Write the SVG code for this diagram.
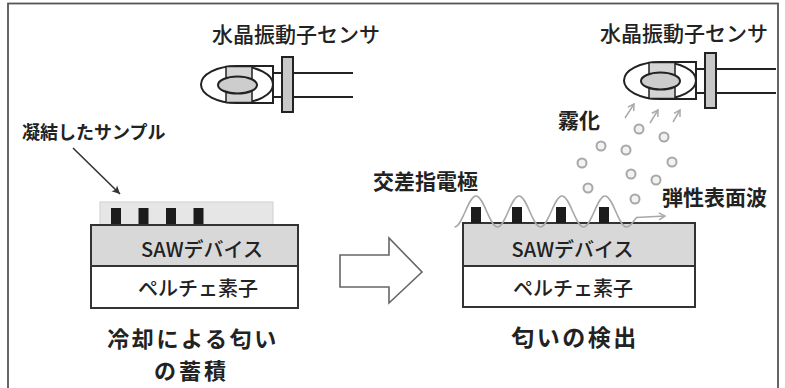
<svg xmlns="http://www.w3.org/2000/svg" xmlns:xlink="http://www.w3.org/1999/xlink" width="785" height="388" viewBox="0 0 785 388">
  <style>
    .jp { font-family: "Noto Sans CJK JP", "Noto Sans", sans-serif; fill: #222; }
    .m { font-weight: 500; }
    .b { font-weight: bold; }
    .saw { fill: #d8d8d8; stroke: #333; stroke-width: 2; }
    .pel { fill: #fff; stroke: #333; stroke-width: 2; }
    .elec { fill: #1c1c1c; }
    .drop { fill: #f2f2f2; stroke: #a8a8a8; stroke-width: 2; }
    .ink { stroke: #222; stroke-width: 2; }
  </style>
  <defs>
    <marker id="headDark" markerWidth="10" markerHeight="10" refX="8" refY="5" orient="auto" markerUnits="userSpaceOnUse">
      <path d="M0,1 L8,5 L0,9 L2,5 Z" fill="#333"/>
    </marker>
    <marker id="headGray" markerWidth="10" markerHeight="10" refX="7" refY="5" orient="auto" markerUnits="userSpaceOnUse">
      <path d="M1,1.5 L7,5 L1,8.5" fill="none" stroke="#aaa" stroke-width="1.5"/>
    </marker>
    <!-- quartz crystal sensor, drawn at the left position -->
    <g id="sensor">
      <path d="M237,66 H273 V103 H237 A36 18.5 0 0 1 237,66 Z" fill="#fff" class="ink"/>
      <path d="M237,66 A36 18.5 0 0 1 237,103" fill="none" class="ink"/>
      <rect x="226" y="66.5" width="26" height="36" fill="#d4d4d4" stroke="#222" stroke-width="1.5"/>
      <ellipse cx="237.5" cy="85" rx="19.5" ry="8.5" fill="#cdcdcd" class="ink"/>
      <rect x="273" y="73" width="9" height="24" fill="#fff" class="ink"/>
      <rect x="282" y="57" width="11" height="55" fill="#c8c8c8" class="ink"/>
      <line x1="293" y1="73" x2="353" y2="73" class="ink"/>
      <line x1="293" y1="97" x2="353" y2="97" class="ink"/>
    </g>
  </defs>

  <rect width="785" height="388" fill="#fff"/>
  <!-- outer frame -->
  <rect x="8" y="3.5" width="770" height="400" fill="none" stroke="#555" stroke-width="1.8"/>

  <!-- left: accumulation by cooling -->
  <g id="sensor-left">
    <use xlink:href="#sensor"/>
    <text class="jp m" x="212" y="42" font-size="21">水晶振動子センサ</text>
  </g>

  <g id="sample-label">
    <text class="jp b" x="22" y="138.5" font-size="18">凝結したサンプル</text>
  </g>

  <g id="device-left">
    <rect x="100" y="202" width="173" height="23" fill="#e6e6e6" stroke="#d0d0d0" stroke-width="1"/>
    <rect class="elec" x="111" y="208" width="10" height="17"/>
    <rect class="elec" x="138.5" y="208" width="10" height="17"/>
    <rect class="elec" x="166" y="208" width="10" height="17"/>
    <rect class="elec" x="193.5" y="208" width="10" height="17"/>
    <rect class="saw" x="91" y="225" width="207" height="41"/>
    <rect class="pel" x="91" y="266" width="207" height="42"/>
    <text class="jp m" x="202" y="257" font-size="20" text-anchor="middle">SAWデバイス</text>
    <text class="jp m" x="198" y="296" font-size="20" text-anchor="middle">ペルチェ素子</text>
  </g>

  <g id="caption-left">
    <text class="jp b" x="193" y="347" font-size="22" letter-spacing="2.6" text-anchor="middle">冷却による匂い</text>
    <text class="jp b" x="191.5" y="379" font-size="22" letter-spacing="3" text-anchor="middle">の蓄積</text>
  </g>

  <!-- transition arrow -->
  <g id="step-arrow">
    <polygon points="340,255 389,255 389,238 422,272 389,303 389,287 340,287" fill="#fff" stroke="#666" stroke-width="1.6"/>
  </g>

  <!-- right: detection -->
  <g id="sensor-right">
    <use xlink:href="#sensor" transform="translate(423,-4)"/>
    <text class="jp m" x="600" y="41" font-size="21">水晶振動子センサ</text>
  </g>

  <g id="mist">
    <text class="jp b" x="558" y="128" font-size="21">霧化</text>
    <circle class="drop" cx="639" cy="129" r="4.5"/>
    <circle class="drop" cx="664" cy="137" r="4.5"/>
    <circle class="drop" cx="601" cy="146" r="4.5"/>
    <circle class="drop" cx="626" cy="150" r="4.5"/>
    <circle class="drop" cx="582" cy="163" r="4.5"/>
    <circle class="drop" cx="672" cy="162" r="4.5"/>
    <circle class="drop" cx="631" cy="174" r="4.5"/>
    <circle class="drop" cx="656" cy="180" r="4.5"/>
    <circle class="drop" cx="588" cy="188" r="4.5"/>
    <circle class="drop" cx="635" cy="199" r="4.5"/>
  </g>

  <g id="device-right">
    <rect class="saw" x="463" y="223" width="232" height="43"/>
    <rect class="pel" x="463" y="266" width="232" height="41"/>
    <text class="jp m" x="572.5" y="257" font-size="20" text-anchor="middle">SAWデバイス</text>
    <text class="jp m" x="573" y="296" font-size="20" text-anchor="middle">ペルチェ素子</text>
    <text class="jp b" x="373" y="189" font-size="21">交差指電極</text>
    <text class="jp b" x="662" y="205" font-size="21">弾性表面波</text>
  </g>

  <g id="caption-right">
    <text class="jp b" x="575" y="346" font-size="23" letter-spacing="2.5" text-anchor="middle">匂いの検出</text>
  </g>

  <g id="connectors">
    <line x1="73" y1="148" x2="120" y2="194" stroke="#333" stroke-width="1.6" marker-end="url(#headDark)"/>
    <line x1="625" y1="118" x2="634" y2="104" stroke="#aaa" stroke-width="1.5" marker-end="url(#headGray)"/>
    <line x1="650" y1="123" x2="658" y2="110" stroke="#aaa" stroke-width="1.5" marker-end="url(#headGray)"/>
    <line x1="673" y1="122" x2="680" y2="110" stroke="#aaa" stroke-width="1.5" marker-end="url(#headGray)"/>
    <!-- surface acoustic wave -->
    <path d="M454.5,227 c3.89,0 7.244,-7.56 10.75,-15.5 s6.86,-15.5 10.75,-15.5 s7.244,7.56 10.75,15.5 s6.86,15.5 10.75,15.5
             s7.244,-7.56 10.75,-15.5 s6.86,-15.5 10.75,-15.5 s7.244,7.56 10.75,15.5 s6.86,15.5 10.75,15.5
             s7.244,-7.56 10.75,-15.5 s6.86,-15.5 10.75,-15.5 s7.244,7.56 10.75,15.5 s6.86,15.5 10.75,15.5
             s7.244,-7.56 10.75,-15.5 s6.86,-15.5 10.75,-15.5 s7.244,7.56 10.75,15.5 s6.86,15.5 10.75,15.5
             c4,0 7,-6 10,-9.5 L665,216" fill="none" stroke="#a8a8a8" stroke-width="1.6" marker-end="url(#headGray)"/>
  </g>

  <g id="electrodes-right">
    <rect class="elec" x="471" y="207" width="10" height="16"/>
    <rect class="elec" x="512" y="207" width="10" height="16"/>
    <rect class="elec" x="556" y="207" width="10" height="16"/>
    <rect class="elec" x="599" y="207" width="10" height="16"/>
  </g>
</svg>
